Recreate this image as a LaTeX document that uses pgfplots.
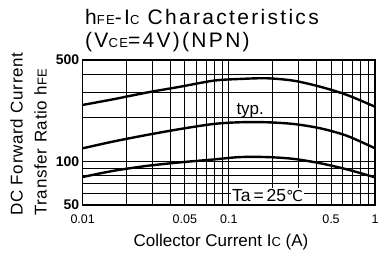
\documentclass[border=0pt]{standalone}
\usepackage{pgfplots}
\pgfplotsset{compat=1.18}
\usepackage{fontspec}
\setmainfont{Liberation Sans}
\newfontfamily\titlefont[LetterSpace=11]{Liberation Sans}
\newfontfamily\labfont[LetterSpace=4]{Liberation Sans}
\newfontfamily\dejavu{DejaVu Sans}
\begin{document}
\begin{tikzpicture}[x=1pt,y=1pt]
\begin{axis}[
  at={(82.7pt,48pt)}, anchor=south west,
  scale only axis, width=292.3pt, height=145pt,
  xmode=log, ymode=log, xmin=0.01, xmax=1, ymin=50, ymax=500,
  xtick={0.01,0.05,0.1,0.5,1}, xticklabels={0.01,0.05,0.1,0.5,1},
  minor xtick={0.02,0.03,0.04,0.06,0.07,0.08,0.09,0.2,0.3,0.4,0.6,0.7,0.8,0.9},
  ytick={50,100,500}, yticklabels={50,100,500},
  minor ytick={60,70,80,90,200,300,400},
  grid=both,
  major grid style={black, line width=0.8pt},
  minor grid style={black, line width=0.7pt},
  major tick length=0pt, minor tick length=0pt,
  axis line style={black, line width=1.3pt},
  xticklabel style={font=\fontsize{12.5}{12.5}\selectfont, yshift=-6pt},
  yticklabel style={font=\fontsize{14}{14}\selectfont\bfseries},
]
\addplot[black, line width=2.4pt, smooth] coordinates {
(0.01,245) (0.0162,268) (0.0274,298) (0.0464,327) (0.0785,360) (0.119,370) (0.182,374) (0.277,360) (0.422,327) (0.643,287) (1,238)};
\addplot[black, line width=2.4pt, smooth] coordinates {
(0.01,123) (0.0162,137) (0.0274,152) (0.0464,167) (0.0785,181) (0.119,186) (0.182,186) (0.277,181) (0.422,169) (0.643,150) (1,123)};
\addplot[black, line width=2.4pt, smooth] coordinates {
(0.01,78) (0.0162,86) (0.0274,93) (0.0464,98.4) (0.0785,103) (0.119,107) (0.182,107) (0.277,104) (0.422,97) (0.643,88) (1,77.6)};
\node[anchor=base, inner sep=0pt, font=\fontsize{17}{17}\selectfont] at (axis cs:0.14,209) {typ.};
\node[anchor=base, fill=white, inner sep=1.5pt, font=\fontsize{17.5}{17.5}\selectfont] at (axis cs:0.184,52.6) {Ta\,=\,25{\dejavu\fontsize{15}{15}\selectfont ℃}};
\end{axis}
\node[anchor=base west, inner sep=0pt] at (85,228) {\titlefont\fontsize{21}{21}\selectfont h{\fontsize{13}{13}\selectfont FE}-I{\fontsize{13}{13}\selectfont C} Characteristics};
\node[anchor=base west, inner sep=0pt] at (85,205) {\titlefont\fontsize{21}{21}\selectfont (V{\fontsize{13}{13}\selectfont CE}=4V)(NPN)};
\node[rotate=90, anchor=base west, inner sep=0pt] at (22.7,37) {\labfont\fontsize{17}{17}\selectfont DC Forward Current};
\node[rotate=90, anchor=base west, inner sep=0pt] at (46.7,37) {\labfont\fontsize{17}{17}\selectfont Transfer Ratio h{\fontsize{13}{13}\selectfont FE}};
\node[anchor=base, inner sep=0pt] at (221,6.3) {\fontsize{17}{17}\selectfont Collector Current I{\fontsize{13}{13}\selectfont C} (A)};
\pgfresetboundingbox
\useasboundingbox (0,0) rectangle (379,253);
\end{tikzpicture}
\end{document}
